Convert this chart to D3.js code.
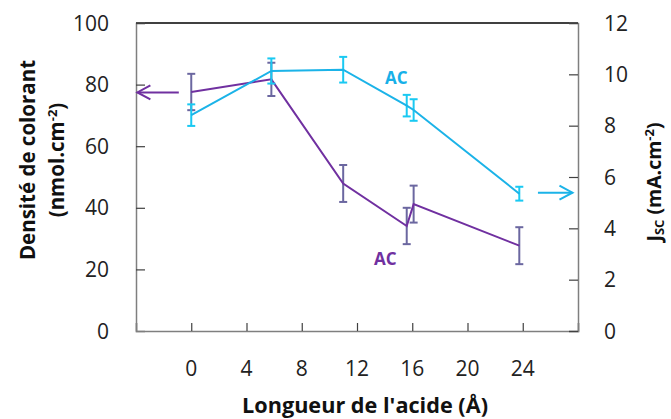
<!DOCTYPE html>
<html><head><meta charset="utf-8">
<script src="https://cdn.jsdelivr.net/npm/d3@7"></script>
<style>body{margin:0;background:#fff}svg{display:block}text{font-family:"Open Sans",sans-serif}</style>
</head><body><svg id="c" width="671" height="419"></svg>
<script>
// Data
const acidLength = [0, 5.8, 11, 15.6, 16.1, 23.75];
const dyeDensity = [77.6, 81.7, 47.9, 34.1, 41.2, 27.7];
const dyeErr = [5.9, 5.4, 6.0, 5.9, 6.0, 6.0];
const jscValues = [8.41, 10.13, 10.18, 8.78, 8.61, 5.35];
const jscErr = [0.42, 0.49, 0.5, 0.42, 0.42, 0.27];
const xTicks = [0, 4, 8, 12, 16, 20, 24];
const xGridTicks = [-4, 0, 4, 8, 12, 16, 20, 24, 28];
const yLeftTicks = [0, 20, 40, 60, 80, 100];
const yRightTicks = [0, 2, 4, 6, 8, 10, 12];

const svg = d3.select("#c");
const L = 136, R = 578, T = 23, B = 331;
const x = d3.scaleLinear().domain([-4, 28]).range([L, R]);
const yL = d3.scaleLinear().domain([0, 100]).range([B, T]);
const yR = d3.scaleLinear().domain([0, 12]).range([B, T]);

const purple = "#7030A0", purpleErr = "#6B67A0", cyan = "#1BB3E8", cyanErr = "#19C9F2";
const axisCol = "#7f7f7f";

// frame
svg.append("line").attr("x1", L).attr("x2", R).attr("y1", T).attr("y2", T).attr("stroke", "#000").attr("stroke-width", 1.5);

// axes
const gB = svg.append("g").attr("transform", `translate(0,${B})`)
  .call(d3.axisBottom(x).tickValues(xGridTicks).tickSize(-8).tickFormat(""));
const gL = svg.append("g").attr("transform", `translate(${L},0)`)
  .call(d3.axisLeft(yL).tickValues(yLeftTicks).tickSize(-9).tickFormat(""));
const gR = svg.append("g").attr("transform", `translate(${R},0)`)
  .call(d3.axisRight(yR).tickValues(yRightTicks).tickSize(-9).tickFormat(""));
[gB, gL, gR].forEach(g => {
  g.selectAll("path").attr("stroke", axisCol).attr("stroke-width", 1.5);
  g.selectAll("line").attr("stroke", "#404040").attr("stroke-width", 1.2);
});
gL.select(".tick line").remove();

// tick labels
svg.selectAll(".xl").data(xTicks).enter().append("text")
  .attr("x", d => x(d)).attr("y", 376).attr("text-anchor", "middle")
  .attr("font-size", 21).attr("fill", "#222").text(d => d);
svg.selectAll(".yl").data(yLeftTicks).enter().append("text")
  .attr("x", 109).attr("y", d => yL(d) + 7.5).attr("text-anchor", "end")
  .attr("font-size", 21).attr("fill", "#222").text(d => d);
svg.selectAll(".yr").data(yRightTicks).enter().append("text")
  .attr("x", 604).attr("y", d => yR(d) + 7.5).attr("text-anchor", "start")
  .attr("font-size", 21).attr("fill", "#222").text(d => d);

// axis titles
svg.append("text").attr("x", 365).attr("y", 413).attr("text-anchor", "middle")
  .attr("font-size", 21).attr("font-weight", "bold").attr("fill", "#111").attr("textLength", 246).attr("lengthAdjust", "spacingAndGlyphs").text("Longueur de l'acide (Å)");
const lt = svg.append("text").attr("transform", "translate(0,160) rotate(-90)")
  .attr("text-anchor", "middle").attr("font-size", 20.5).attr("font-weight", "bold").attr("fill", "#111");
lt.append("tspan").attr("x", 0).attr("y", 35).text("Densité de colorant");
const lt2 = lt.append("tspan").attr("x", 0).attr("y", 64);
lt2.append("tspan").text("(nmol.cm");
lt2.append("tspan").attr("dy", -7).attr("font-size", 13).text("-2");
lt2.append("tspan").attr("dy", 7).text(")");
const rt = svg.append("text").attr("transform", "translate(661,182) rotate(-90)")
  .attr("text-anchor", "middle").attr("font-size", 19.5).attr("font-weight", "bold").attr("fill", "#111");
rt.append("tspan").text("J");
rt.append("tspan").attr("dy", 3).attr("font-size", 13).text("SC");
rt.append("tspan").attr("dy", -3).text(" (mA.cm");
rt.append("tspan").attr("dy", -7).attr("font-size", 13).text("-2");
rt.append("tspan").attr("dy", 7).text(")");

// error bars
function errBars(vals, errs, y, col) {
  const g = svg.append("g").attr("stroke", col).attr("stroke-width", 2).attr("fill", "none");
  acidLength.forEach((a, i) => {
    const cx = x(a), y1 = y(vals[i] + errs[i]), y2 = y(vals[i] - errs[i]);
    g.append("line").attr("x1", cx).attr("x2", cx).attr("y1", y1).attr("y2", y2);
    g.append("line").attr("x1", cx - 4).attr("x2", cx + 4).attr("y1", y1).attr("y2", y1);
    g.append("line").attr("x1", cx - 4).attr("x2", cx + 4).attr("y1", y2).attr("y2", y2);
  });
}
errBars(dyeDensity, dyeErr, yL, purpleErr);

const line = (y) => d3.line().x((d, i) => x(acidLength[i])).y(d => y(d));
svg.append("path").datum(dyeDensity).attr("d", line(yL)).attr("fill", "none").attr("stroke", purple).attr("stroke-width", 2);
errBars(jscValues, jscErr, yR, cyanErr);
svg.append("path").datum(jscValues).attr("d", line(yR)).attr("fill", "none").attr("stroke", cyan).attr("stroke-width", 2);

// arrows
function arrow(x1, x2, yy, col) {
  const dir = Math.sign(x2 - x1);
  const g = svg.append("g").attr("stroke", col).attr("stroke-width", 2).attr("fill", "none");
  g.append("line").attr("x1", x1).attr("x2", x2).attr("y1", yy).attr("y2", yy);
  g.append("path").attr("d", `M${x2 - dir * 13},${yy - 7}L${x2},${yy}L${x2 - dir * 13},${yy + 7}`);
}
arrow(x(-0.9), x(-3.9), yL(dyeDensity[0]) + 0.5, purple);
arrow(x(25.1), x(27.6), yR(jscValues[5]) - 1, cyan);

// labels
svg.append("text").attr("x", 385).attr("y", 84).attr("font-size", 17).attr("font-weight", "bold").attr("fill", "#17B0E8").text("AC");
svg.append("text").attr("x", 374).attr("y", 265).attr("font-size", 17).attr("font-weight", "bold").attr("fill", purple).text("AC");
</script></body></html>
